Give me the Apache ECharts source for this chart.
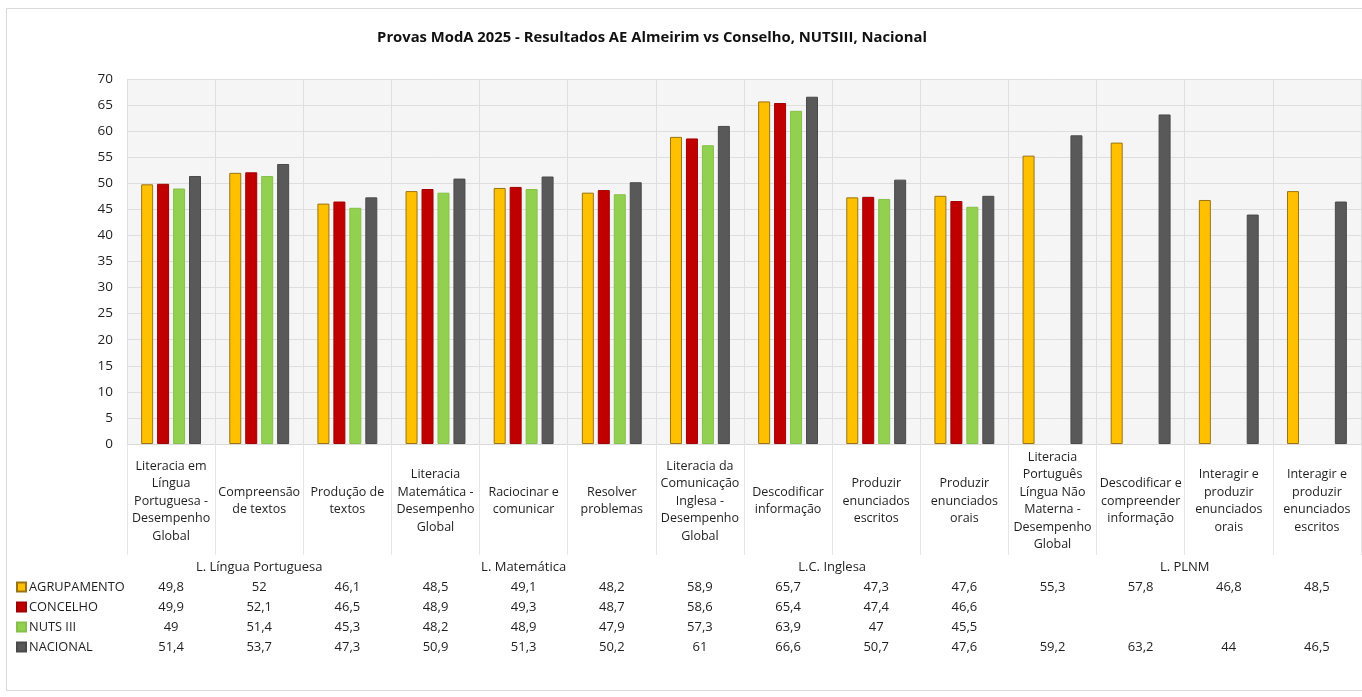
<!DOCTYPE html>
<html>
<head>
<meta charset="utf-8">
<title>Provas ModA 2025</title>
<script src="https://cdn.jsdelivr.net/npm/echarts@6/dist/echarts.min.js"></script>
<style>
  html, body { margin: 0; padding: 0; background: #ffffff; }
  #chart { width: 1362px; height: 697px; }
</style>
</head>
<body>
<div id="chart"></div>
<script>
// Categories (domains of each test), with their line breaks
const categories = [
  'Literacia em\nLíngua\nPortuguesa -\nDesempenho\nGlobal',
  'Compreensão\nde textos',
  'Produção de\ntextos',
  'Literacia\nMatemática -\nDesempenho\nGlobal',
  'Raciocinar e\ncomunicar',
  'Resolver\nproblemas',
  'Literacia da\nComunicação\nInglesa -\nDesempenho\nGlobal',
  'Descodificar\ninformação',
  'Produzir\nenunciados\nescritos',
  'Produzir\nenunciados\norais',
  'Literacia\nPortuguês\nLíngua Não\nMaterna -\nDesempenho\nGlobal',
  'Descodificar e\ncompreender\ninformação',
  'Interagir e\nproduzir\nenunciados\norais',
  'Interagir e\nproduzir\nenunciados\nescritos'
];

// Test groups and how many categories each one covers
const groupNames = ['L. Língua Portuguesa', 'L. Matemática', 'L.C. Inglesa', 'L. PLNM'];
const groupSpans = [3, 3, 4, 4];

// Results per level
const seriesNames = ['AGRUPAMENTO', 'CONCELHO', 'NUTS III', 'NACIONAL'];
const agrupamento = [49.8, 52, 46.1, 48.5, 49.1, 48.2, 58.9, 65.7, 47.3, 47.6, 55.3, 57.8, 46.8, 48.5];
const concelho    = [49.9, 52.1, 46.5, 48.9, 49.3, 48.7, 58.6, 65.4, 47.4, 46.6, null, null, null, null];
const nutsIII     = [49, 51.4, 45.3, 48.2, 48.9, 47.9, 57.3, 63.9, 47, 45.5, null, null, null, null];
const nacional    = [51.4, 53.7, 47.3, 50.9, 51.3, 50.2, 61, 66.6, 50.7, 47.6, 59.2, 63.2, 44, 46.5];

const seriesData = [agrupamento, concelho, nutsIII, nacional];
const fillColors = ['#FFC000', '#C00000', '#92D050', '#595959'];
const edgeColors = ['#9a7412', '#a00000', '#86c048', '#4a4a4a'];

const FONT = '"Open Sans", "Liberation Sans", sans-serif';
const TEXT = '#1f1f1f';

const fmt = v => (v === null || v === undefined) ? '' : String(v).replace('.', ',');

// Centres of each group, in category units (category i spans [i, i+1])
const groupCenters = [];
let acc = 0;
groupSpans.forEach(s => { groupCenters.push(acc + s / 2); acc += s; });
const cellCenters = categories.map((_, i) => i + 0.5);

const grid = { left: 127, right: 1, top: 79, bottom: 253 };

// Extra value axes, one per table row, used only for their labels
function tableAxis(offset, values, labelFn) {
  return {
    type: 'value', gridIndex: 0, position: 'bottom', offset: offset,
    min: 0, max: categories.length,
    axisLine: { show: false }, axisTick: { show: false }, splitLine: { show: false },
    axisLabel: {
      customValues: values, margin: 0, verticalAlign: 'middle',
      fontFamily: FONT, fontSize: 13, color: TEXT,
      formatter: labelFn
    }
  };
}

const xAxes = [
  {
    type: 'category', data: categories, gridIndex: 0,
    axisLine: { show: true, lineStyle: { color: '#d9d9d9' } },
    axisTick: { show: true, length: 111, lineStyle: { color: '#e6e6e6' } },
    splitLine: { show: true, lineStyle: { color: '#dedede' } },
    axisLabel: {
      interval: 0, margin: 57, verticalAlign: 'middle',
      fontFamily: FONT, fontSize: 12.5, lineHeight: 17.5, color: TEXT, align: 'center'
    }
  },
  tableAxis(123, groupCenters, v => {
    const i = groupCenters.findIndex(c => Math.abs(c - v) < 1e-6);
    return i >= 0 ? groupNames[i] : '';
  })
];
seriesData.forEach((row, r) => {
  xAxes.push(tableAxis(143 + r * 20, cellCenters, v => fmt(row[Math.floor(v)])));
});

const chart = echarts.init(document.getElementById('chart'), null, { renderer: 'canvas' });
chart.setOption({
  backgroundColor: '#ffffff',
  animation: false,
  title: {
    text: 'Provas ModA 2025 - Resultados AE Almeirim vs Conselho, NUTSIII, Nacional',
    left: 647, top: 25, textAlign: 'center',
    textStyle: { fontFamily: FONT, fontSize: 14.8, fontWeight: 'bold', color: '#111' }
  },
  graphic: [{
    type: 'rect', silent: true, z: -1,
    shape: { x: 6.5, y: 8.5, width: 1360, height: 682 },
    style: { fill: null, stroke: '#d9d9d9', lineWidth: 1 }
  }],
  legend: {
    orient: 'vertical', left: 16, top: 580, padding: 0,
    itemWidth: 9, itemHeight: 9, itemGap: 6, icon: 'rect',
    textStyle: { fontFamily: FONT, fontSize: 12.8, lineHeight: 14, color: TEXT, padding: [0, 0, 0, -2] },
    data: seriesNames
  },
  grid: Object.assign({ show: true, backgroundColor: '#f5f5f5', borderWidth: 0 }, grid),
  xAxis: xAxes,
  yAxis: {
    type: 'value', min: 0, max: 70, interval: 5,
    axisLine: { show: false }, axisTick: { show: false },
    splitLine: { lineStyle: { color: '#dedede' } },
    axisLabel: { fontFamily: FONT, fontSize: 13.5, color: TEXT, margin: 14 }
  },
  series: seriesData.map((row, r) => ({
    name: seriesNames[r],
    type: 'bar',
    xAxisIndex: 0,
    data: row,
    barWidth: 12,
    barGap: '33%',
    itemStyle: { color: fillColors[r], borderColor: edgeColors[r], borderWidth: 1 }
  }))
});
</script>
</body>
</html>
